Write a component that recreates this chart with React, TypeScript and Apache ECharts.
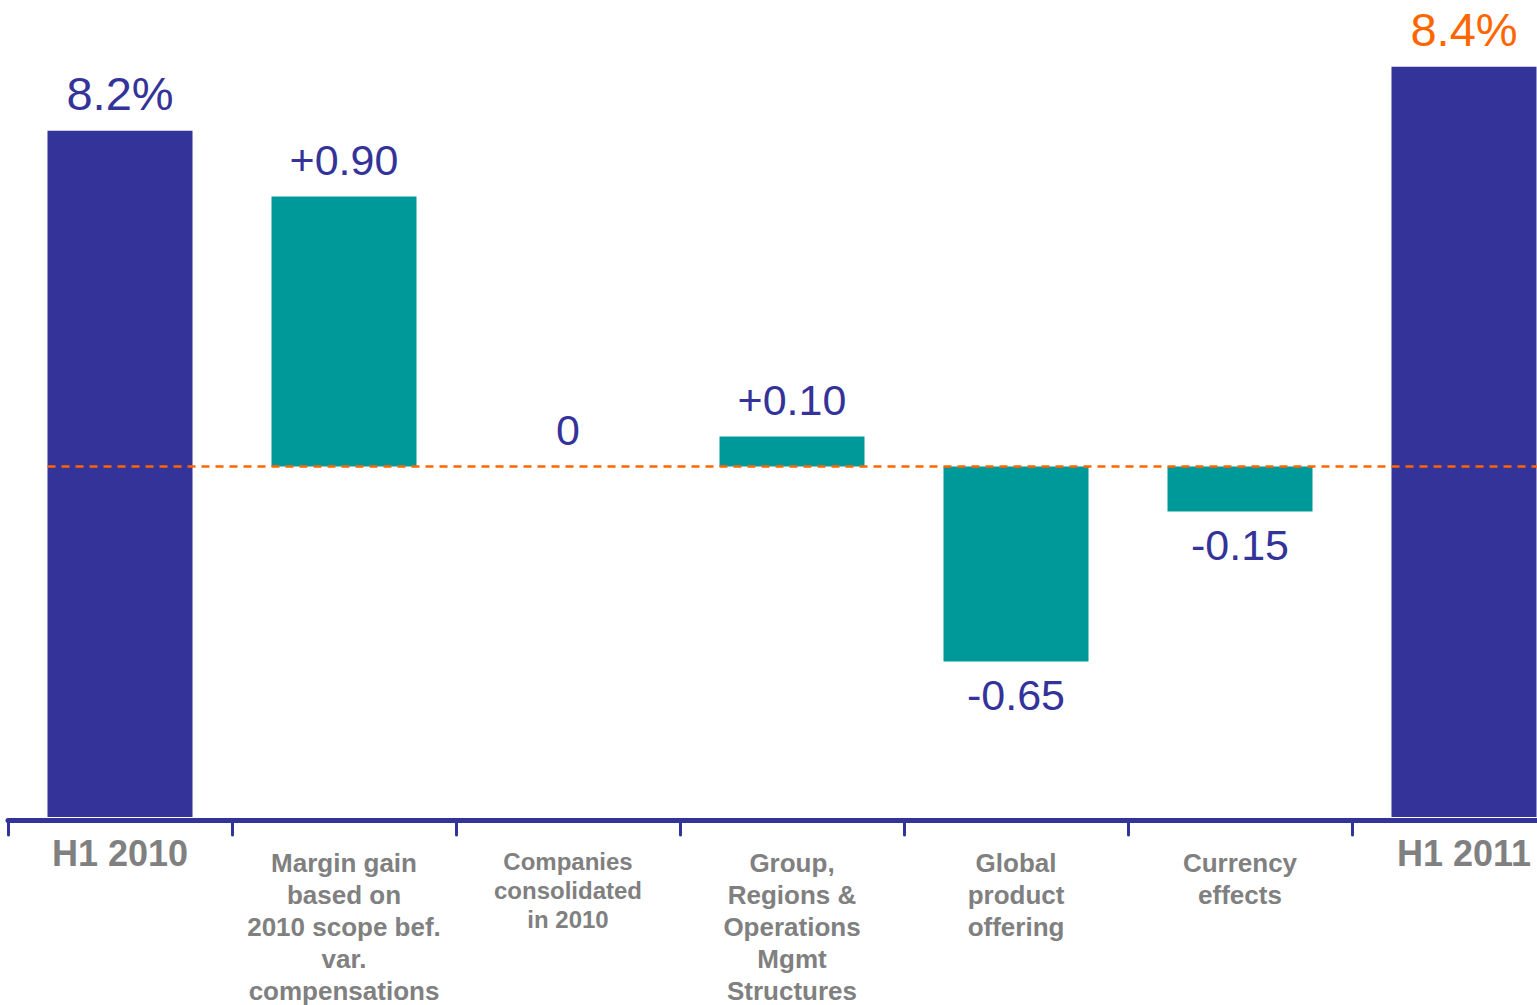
import React, { useEffect, useRef } from "react";
import * as echarts from "echarts";

const categories = [
  "H1 2010",
  "Margin gain\nbased on\n2010 scope bef.\nvar.\ncompensations",
  "Companies\nconsolidated\nin 2010",
  "Group,\nRegions &\nOperations\nMgmt\nStructures",
  "Global\nproduct\noffering",
  "Currency\neffects",
  "H1 2011",
];
const totalValues = [8.2, null, null, null, null, null, 8.4];
const deltaValues = [null, 0.9, 0, 0.1, -0.65, -0.15, null];

const NAVY = "#343399";
const TEAL = "#009999";
const ORANGE = "#FF6600";
const GRAY = "#808080";
const FONT = "'Liberation Sans', Arial, Helvetica, sans-serif";
const BAR_W = 145;

export default function App() {
  const ref = useRef<HTMLDivElement>(null);
  useEffect(() => {
    if (!ref.current) return;
    const chart = echarts.init(ref.current, undefined, { renderer: "svg" });
    const lastIdx = totalValues.length - 1;
    const totalData = totalValues.map((v, i) =>
      v == null
        ? null
        : {
            value: v,
            label: { color: i === lastIdx ? ORANGE : NAVY },
          }
    );
    const deltaData = deltaValues.map((v) =>
      v == null
        ? null
        : {
            value: v,
            label: {
              position: v < 0 ? "bottom" : "top",
              distance: v < 0 ? 12 : 15,
            },
          }
    );
    const option: any = {
      animation: false,
      backgroundColor: "#ffffff",
      grid: { left: 8, top: 3, width: 1568, height: 814, containLabel: false },
      xAxis: {
        type: "category",
        data: categories,
        offset: 3,
        axisLine: { onZero: false, lineStyle: { color: NAVY, width: 5 } },
        axisTick: {
          show: true,
          interval: 0,
          length: 15,
          lineStyle: { color: NAVY, width: 3, cap: "round" },
        },
        axisLabel: {
          interval: 0,
          margin: 13,
          hideOverlap: false,
          formatter: (val: string, idx: number) => {
            const lines = val.split("\n");
            if (idx === 0 || idx === lastIdx) {
              return lines.map((l) => `{big|${l}}`).join("\n");
            }
            const st = idx === 2 ? "c" : "s";
            return `{gap| }\n` + lines.map((l) => `{${st}|${l}}`).join("\n");
          },
          rich: {
            big: {
              fontSize: 36,
              lineHeight: 40,
              fontWeight: "bold",
              color: GRAY,
              fontFamily: FONT,
            },
            s: {
              fontSize: 26,
              lineHeight: 32,
              fontWeight: "bold",
              color: GRAY,
              fontFamily: FONT,
            },
            c: {
              fontSize: 24,
              lineHeight: 29,
              fontWeight: "bold",
              color: GRAY,
              fontFamily: FONT,
            },
            gap: { fontSize: 1, lineHeight: 14 },
          },
        },
        splitLine: { show: false },
      },
      yAxis: [
        {
          type: "value",
          min: 6.05,
          max: 8.6,
          show: false,
          splitLine: { show: false },
        },
        {
          type: "value",
          min: -1.1683,
          max: 1.545,
          show: false,
          splitLine: { show: false },
        },
      ],
      series: [
        {
          type: "bar",
          name: "totals",
          yAxisIndex: 0,
          data: totalData,
          barWidth: BAR_W,
          barGap: "-100%",
          itemStyle: { color: NAVY },
          label: {
            show: true,
            position: "top",
            distance: 14,
            fontSize: 47,
            fontFamily: FONT,
            formatter: (p: any) => `${Number(p.value).toFixed(1)}%`,
          },
          z: 2,
        },
        {
          type: "bar",
          name: "deltas",
          yAxisIndex: 1,
          data: deltaData,
          barWidth: BAR_W,
          barGap: "-100%",
          itemStyle: { color: TEAL },
          label: {
            show: true,
            fontSize: 43,
            color: NAVY,
            fontFamily: FONT,
            formatter: (p: any) => {
              const v = Number(p.value);
              if (v > 0) return "+" + v.toFixed(2);
              if (v === 0) return "0";
              return v.toFixed(2);
            },
          },
          z: 3,
        },
      ],
    };
    chart.setOption(option);

    const cx = chart.convertToPixel({ xAxisIndex: 0 } as any, 0 as any) as unknown as number;
    const y0 = chart.convertToPixel({ yAxisIndex: 1 } as any, 0 as any) as unknown as number;
    chart.setOption({
      graphic: [
        {
          type: "line",
          z: 100,
          silent: true,
          shape: { x1: cx - BAR_W / 2, y1: y0, x2: chart.getWidth(), y2: y0 },
          style: { stroke: ORANGE, lineWidth: 2.5, lineDash: [8, 6] },
        },
      ],
    });

    return () => chart.dispose();
  }, []);
  return (
    <div
      style={{
        position: "absolute",
        left: 0,
        top: 0,
        width: 1537,
        height: 1005,
        overflow: "hidden",
        background: "#fff",
      }}
    >
      <div ref={ref} style={{ width: 1600, height: 1005 }} />
    </div>
  );
}
